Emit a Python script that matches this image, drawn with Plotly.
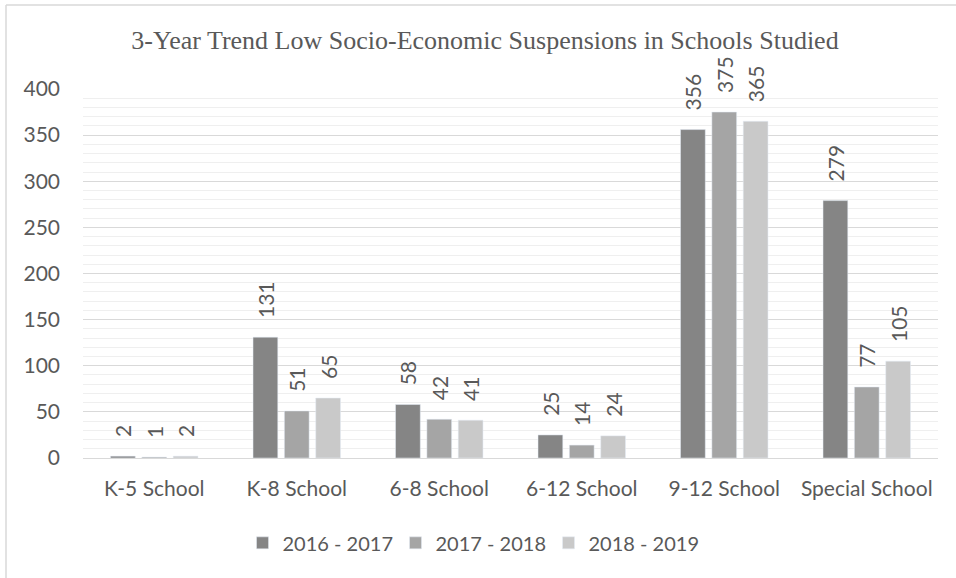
import plotly.graph_objects as go

schools = ["K-5 School", "K-8 School", "6-8 School", "6-12 School", "9-12 School", "Special School"]
years = ["2016 - 2017", "2017 - 2018", "2018 - 2019"]
y2016 = [2, 131, 58, 25, 356, 279]
y2017 = [1, 51, 42, 14, 375, 77]
y2018 = [2, 65, 41, 24, 365, 105]
colors = ["#858585", "#a5a5a5", "#c9c9c9"]

text_color = "#595959"
sans = "Lato, 'Open Sans', sans-serif"
pad = "\u00a0\u00a0\u00a0"  # keeps the rotated value labels clear of the bar tops

fig = go.Figure()
for name, vals, col in zip(years, [y2016, y2017, y2018], colors):
    fig.add_trace(go.Bar(
        x=schools, y=vals, name=name, marker_color=col,
        texttemplate=pad + "%{y}", textposition="outside", textangle=-90,
        constraintext="none", cliponaxis=False,
        textfont=dict(family=sans, size=21, color=text_color),
    ))

fig.update_layout(
    width=956, height=578,
    margin=dict(l=83, r=18, t=89, b=120),
    paper_bgcolor="white", plot_bgcolor="white",
    barmode="group", bargap=0.34, bargroupgap=0.21,
    title=dict(text="3-Year Trend Low Socio-Economic Suspensions in Schools Studied",
               x=485 / 956, xanchor="center", y=1 - 40 / 578, yanchor="middle",
               font=dict(family="'Liberation Serif', 'Times New Roman', serif", size=26, color=text_color)),
    legend=dict(orientation="h", x=0.455, xanchor="center", y=-0.23, yanchor="middle",
                font=dict(family=sans, size=20, color=text_color),
                entrywidth=108, tracegroupgap=0),
    font=dict(family=sans, color=text_color),
    shapes=[
        dict(type="line", xref="paper", yref="paper", x0=-77/855, x1=1.03, y0=(458-5)/369, y1=(458-5)/369,
             line=dict(color="#d9d9d9", width=1.5)),
        dict(type="line", xref="paper", yref="paper", x0=-77/855, x1=-77/855, y0=-0.4, y1=(458-5)/369,
             line=dict(color="#d9d9d9", width=1.5)),
    ],
)
fig.update_yaxes(range=[0, 400], dtick=50, showgrid=True, gridcolor="#d9d9d9", gridwidth=1,
                 minor=dict(dtick=10, showgrid=True, gridcolor="#efefef", gridwidth=1),
                 zeroline=True, zerolinecolor="#d9d9d9", zerolinewidth=1,
                 tickfont=dict(family=sans, size=21, color=text_color), ticklabelstandoff=22)
fig.update_xaxes(showline=True, linecolor="#d9d9d9",
                 tickfont=dict(family=sans, size=21, color=text_color), ticklabelstandoff=12)

fig.write_html("out.html")
